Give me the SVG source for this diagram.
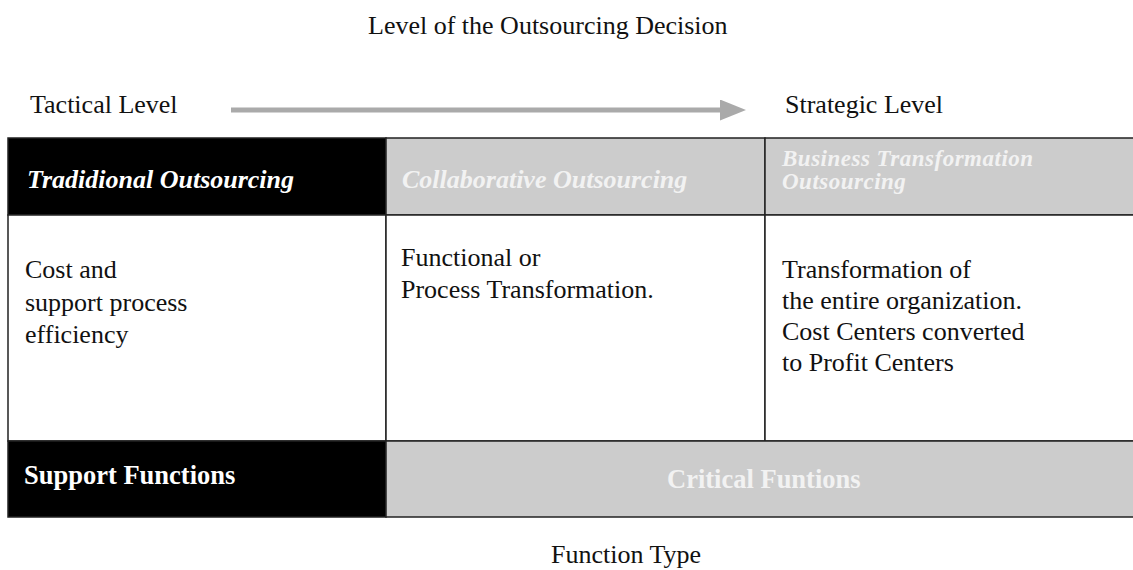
<svg xmlns="http://www.w3.org/2000/svg" width="1133" height="570" viewBox="0 0 1133 570">
  <defs>
    <style>
      text { font-family: "Liberation Serif", "Times New Roman", serif; font-size: 26px; }
      .plain { fill: #111111; }
      .head { font-weight: bold; font-style: italic; }
      .headSmall { font-weight: bold; font-style: italic; font-size: 23px; letter-spacing: 0.5px; }
      .bold { font-weight: bold; font-size: 26.5px; }
      .onDark { fill: #ffffff; }
      .onGrey { fill: #f2f2f2; }
      .dark { fill: #000000; stroke: #222222; stroke-width: 1.5; }
      .grey { fill: #cccccc; stroke: #222222; stroke-width: 1.5; }
      .blank { fill: #ffffff; stroke: #222222; stroke-width: 1.5; }
      .axis { stroke: #aaaaaa; stroke-width: 5; fill: none; }
    </style>
    <marker id="axisHead" viewBox="0 0 26 21" refX="0" refY="10.5" markerUnits="userSpaceOnUse" markerWidth="26" markerHeight="21" orient="auto">
      <path d="M0,0 L26,10.5 L0,21 Z" fill="#aaaaaa"/>
    </marker>
  </defs>

  <rect width="1133" height="570" fill="#ffffff"/>

  <!-- axis titles -->
  <text id="title" class="plain" x="368" y="34">Level of the Outsourcing Decision</text>
  <text id="tactical" class="plain" x="30" y="113">Tactical Level</text>
  <text id="strategic" class="plain" x="785" y="113">Strategic Level</text>
  <text id="functionType" class="plain" x="551" y="563">Function Type</text>

  <!-- connectors -->
  <g id="connectors">
    <line class="axis" x1="231" y1="110" x2="720" y2="110" marker-end="url(#axisHead)"/>
  </g>

  <!-- header row -->
  <g id="traditional">
    <rect class="dark" x="8" y="138" width="378" height="77"/>
    <text class="head onDark" x="27" y="188">Tradidional Outsourcing</text>
  </g>
  <g id="collaborative">
    <rect class="grey" x="386" y="138" width="379" height="77"/>
    <text class="head onGrey" x="402" y="188">Collaborative Outsourcing</text>
  </g>
  <g id="businessTransformation">
    <rect class="grey" x="765" y="138" width="372" height="77"/>
    <text class="headSmall onGrey" x="782" y="166">Business Transformation</text>
    <text class="headSmall onGrey" x="782" y="189">Outsourcing</text>
  </g>

  <!-- description row -->
  <g id="costEfficiency">
    <rect class="blank" x="8" y="215" width="378" height="226"/>
    <text class="plain" x="25" y="278">Cost and</text>
    <text class="plain" x="25" y="311">support process</text>
    <text class="plain" x="25" y="343">efficiency</text>
  </g>
  <g id="processTransformation">
    <rect class="blank" x="386" y="215" width="379" height="226"/>
    <text class="plain" x="401" y="266">Functional or</text>
    <text class="plain" x="401" y="298">Process Transformation.</text>
  </g>
  <g id="organizationTransformation">
    <rect class="blank" x="765" y="215" width="372" height="226"/>
    <text class="plain" x="782" y="278">Transformation of</text>
    <text class="plain" x="782" y="309">the entire organization.</text>
    <text class="plain" x="782" y="340">Cost Centers converted</text>
    <text class="plain" x="782" y="371">to Profit Centers</text>
  </g>

  <!-- function type row -->
  <g id="supportFunctions">
    <rect class="dark" x="8" y="441" width="378" height="76"/>
    <text class="bold onDark" x="24" y="484">Support Functions</text>
  </g>
  <g id="criticalFunctions">
    <rect class="grey" x="386" y="441" width="751" height="76"/>
    <text class="bold onGrey" x="667" y="488">Critical Funtions</text>
  </g>
</svg>
